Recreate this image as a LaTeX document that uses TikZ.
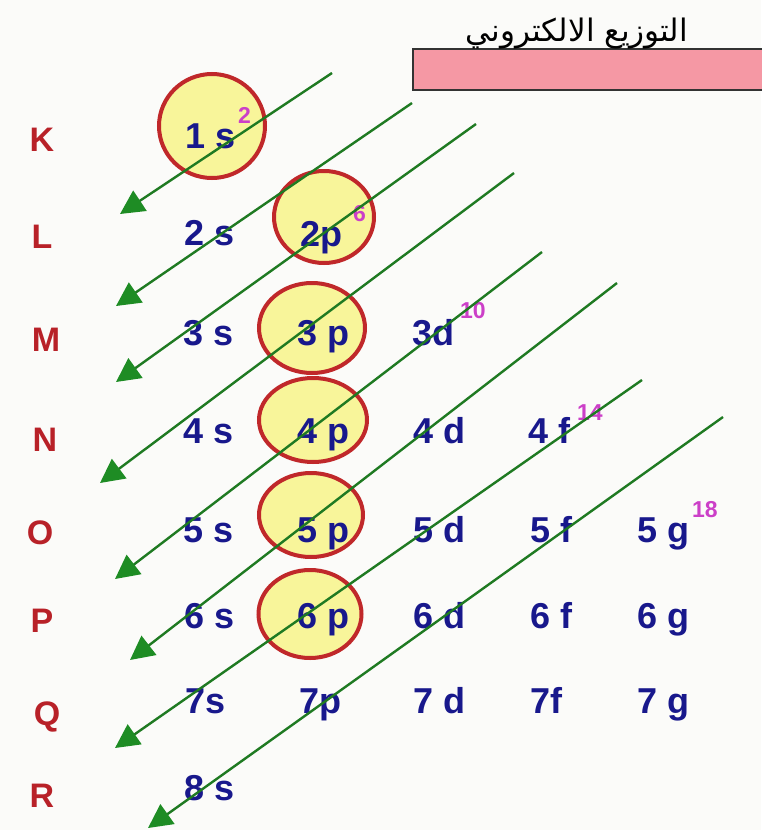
\documentclass[tikz,border=0pt]{standalone}
\usepackage{fontspec}
\setmainfont{Liberation Sans}
\newfontfamily\arabicfont[Script=Arabic]{DejaVu Sans}
\TeXXeTstate=1
\usetikzlibrary{arrows.meta,shapes.geometric}
\definecolor{navy}{HTML}{18188C}
\definecolor{shellred}{HTML}{B82128}
\definecolor{supmag}{HTML}{CC3FC8}
\definecolor{orbred}{HTML}{C0282A}
\definecolor{orbfill}{HTML}{F8F59A}
\definecolor{arrgreen}{HTML}{1F7A22}
\definecolor{headgreen}{HTML}{1E8C24}
\definecolor{titlepink}{HTML}{F598A4}
\definecolor{bg}{HTML}{FBFBF9}
\begin{document}
\begin{tikzpicture}[x=1pt,y=-1pt,
  orb/.style={ellipse, draw=orbred, fill=orbfill, line width=4pt, inner sep=0pt},
  lbl/.style={anchor=base west, text=navy, font=\fontsize{36}{38}\selectfont\bfseries, inner sep=0pt},
  shell/.style={anchor=base, text=shellred, font=\fontsize{34}{36}\selectfont\bfseries, inner sep=0pt},
  sup/.style={anchor=base west, text=supmag, font=\fontsize{23}{25}\selectfont\bfseries, inner sep=0pt},
  arr/.style={draw=arrgreen, line width=2.4pt, -{Triangle[length=24pt,width=24pt,color=headgreen]}}]
\path[use as bounding box, fill=bg] (0,0) rectangle (761,830);
% title
\node[draw=black!80, line width=2pt, fill=titlepink, minimum width=360pt, minimum height=41pt, anchor=north west, inner sep=0pt] (tbox) at (412,48) {};
\node[anchor=base, font=\arabicfont\fontsize{31}{34}\selectfont, inner sep=0pt] (title) at (577,41) {\beginR التوزيع الالكتروني\endR};
% circles
\node[orb, minimum width=106pt, minimum height=104pt] (c1s) at (212,126) {};
\node[orb, minimum width=100pt, minimum height=92pt] (c2p) at (324,217) {};
\node[orb, minimum width=106pt, minimum height=90pt] (c3p) at (312,328) {};
\node[orb, minimum width=108pt, minimum height=84pt] (c4p) at (313,420) {};
\node[orb, minimum width=104pt, minimum height=84pt] (c5p) at (311,515) {};
\node[orb, minimum width=103pt, minimum height=88pt] (c6p) at (310,614) {};
% shells
\node[shell] (K) at (42,151) {K};
\node[shell] (L) at (42,248) {L};
\node[shell] (M) at (46,351) {M};
\node[shell] (N) at (45,451) {N};
\node[shell] (O) at (40,544) {O};
\node[shell] (P) at (42,632) {P};
\node[shell] (Q) at (47,725) {Q};
\node[shell] (R) at (42,807) {R};
% orbitals
\node[lbl] (o1s) at (185,148) {1 s};
\node[lbl] (o2s) at (184,245) {2 s};
\node[lbl] (o2p) at (300,246) {2p};
\node[lbl] (o3s) at (183,345) {3 s};
\node[lbl] (o3p) at (297,345) {3 p};
\node[lbl] (o3d) at (412,345) {3d};
\node[lbl] (o4s) at (183,443) {4 s};
\node[lbl] (o4p) at (297,443) {4 p};
\node[lbl] (o4d) at (413,443) {4 d};
\node[lbl] (o4f) at (528,443) {4 f};
\node[lbl] (o5s) at (183,542) {5 s};
\node[lbl] (o5p) at (297,542) {5 p};
\node[lbl] (o5d) at (413,542) {5 d};
\node[lbl] (o5f) at (530,542) {5 f};
\node[lbl] (o5g) at (637,542) {5 g};
\node[lbl] (o6s) at (184,628) {6 s};
\node[lbl] (o6p) at (297,628) {6 p};
\node[lbl] (o6d) at (413,628) {6 d};
\node[lbl] (o6f) at (530,628) {6 f};
\node[lbl] (o6g) at (637,628) {6 g};
\node[lbl] (o7s) at (185,713) {7s};
\node[lbl] (o7p) at (299,713) {7p};
\node[lbl] (o7d) at (413,713) {7 d};
\node[lbl] (o7f) at (530,713) {7f};
\node[lbl] (o7g) at (637,713) {7 g};
\node[lbl] (o8s) at (184,800) {8 s};
% superscripts
\node[sup] (e1s) at (238,123) {2};
\node[sup] (e2p) at (353,221) {6};
\node[sup] (e3d) at (460,318) {10};
\node[sup] (e4f) at (577,420) {14};
\node[sup] (e5g) at (692,517) {18};
% arrows
\coordinate (a1s) at (332,73);  \coordinate (a1e) at (120,214);
\coordinate (a2s) at (412,103); \coordinate (a2e) at (116,306);
\coordinate (a3s) at (476,124); \coordinate (a3e) at (116,382);
\coordinate (a4s) at (514,173); \coordinate (a4e) at (100,483);
\coordinate (a5s) at (542,252); \coordinate (a5e) at (115,579);
\coordinate (a6s) at (617,283); \coordinate (a6e) at (130,660);
\coordinate (a7s) at (642,380); \coordinate (a7e) at (115,748);
\coordinate (a8s) at (723,417); \coordinate (a8e) at (148,828);
\foreach \i in {1,...,8} {\draw[arr] (a\i s) -- (a\i e);}
\end{tikzpicture}
\end{document}
